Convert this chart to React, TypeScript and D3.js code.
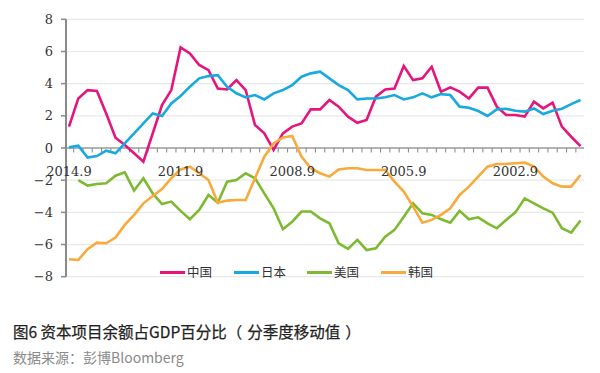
import React from "react";
import * as d3 from "d3";

const quarterLabels = ["2014.9", "2011.9", "2008.9", "2005.9", "2002.9"];
const labelIndex = [0, 12, 24, 36, 48];
const yTicks = [8, 6, 4, 2, 0, -2, -4, -6, -8];

const china = [1.33, 3.08, 3.6, 3.54, 2.15, 0.64, 0.19, -0.33, -0.85, 0.9, 2.67, 3.6, 6.25, 5.88,
  5.16, 4.84, 3.7, 3.64, 4.22, 3.6, 1.43, 0.91, -0.12, 0.91, 1.33, 1.53, 2.4, 2.4,
  2.98, 2.57, 1.95, 1.57, 1.74, 3.19, 3.64, 3.7, 5.09, 4.22, 4.33, 5.05, 3.5, 3.77,
  3.5, 3.08, 3.75, 3.75, 2.57, 2.05, 2.05, 1.95, 2.88, 2.46, 2.82, 1.33, 0.7, 0.12];
const japan = [0.04, 0.14, -0.6, -0.5, -0.17, -0.33, 0.29, 0.91, 1.53, 2.15, 1.99, 2.77, 3.23, 3.81,
  4.33, 4.47, 4.53, 3.81, 3.4, 3.15, 3.29, 3.02, 3.4, 3.6, 3.91, 4.43, 4.64, 4.74,
  4.33, 3.91, 3.6, 3.02, 3.08, 3.08, 3.15, 3.29, 3.02, 3.15, 3.4, 3.15, 3.35, 3.29,
  2.57, 2.5, 2.3, 1.99, 2.4, 2.44, 2.32, 2.26, 2.46, 2.11, 2.32, 2.44, 2.73, 2.98];
const usa = [null, -1.99, -2.34, -2.24, -2.19, -1.72, -1.51, -2.65, -1.88, -2.82, -3.48, -3.33, -3.91, -4.43,
  -3.85, -2.92, -3.4, -2.09, -1.99, -1.57, -1.88, -2.82, -3.75, -5.05, -4.58, -3.95, -3.95, -4.37,
  -4.68, -5.92, -6.27, -5.71, -6.34, -6.23, -5.51, -5.09, -4.27, -3.44, -4.06, -4.16, -4.43, -4.64,
  -3.91, -4.43, -4.31, -4.68, -4.99, -4.47, -4.0, -3.13, -3.44, -3.75, -4.02, -4.99, -5.26, -4.51];
const korea = [-6.92, -6.96, -6.29, -5.88, -5.92, -5.57, -4.78, -4.16, -3.44, -2.98, -2.55, -1.88, -1.33, -1.16,
  -1.57, -1.99, -3.4, -3.27, -3.23, -3.23, -1.88, -0.54, 0.29, 0.66, 0.75, -0.54, -1.26, -1.57,
  -1.78, -1.33, -1.26, -1.26, -1.37, -1.37, -1.37, -2.09, -2.71, -3.64, -4.64, -4.47, -4.16, -3.75,
  -2.92, -2.4, -1.78, -1.16, -0.99, -0.99, -0.95, -0.91, -1.16, -1.78, -2.19, -2.4, -2.4, -1.68];

const seriesNames = ["中国", "日本", "美国", "韩国"];
const seriesData = [china, japan, usa, korea];
const seriesColors = ["#e4157d", "#19a9e1", "#7dba31", "#f8aa3c"];

const titleMain = "图6 资本项目余额占GDP百分比";
const titleParenOpen = "（";
const titleParenInner = "分季度移动值";
const titleParenClose = "）";
const source = "数据来源：彭博Bloomberg";

export default function App() {
  const n = china.length;
  const x = d3.scaleLinear().domain([0, n - 1]).range([69, 580.5]);
  const y = d3.scaleLinear().domain([-8, 8]).range([276.7, 19.3]);
  const step = x(1) - x(0);
  const line = d3
    .line<number | null>()
    .defined((d) => d !== null)
    .x((_, i) => x(i))
    .y((d) => y(d as number))
    .curve(d3.curveLinear);

  const xLeft = 66;
  const xRight = 584;
  const tickIdx = d3.range(-1, n).map((k) => x(k) + step / 2).filter((v) => v > xLeft + 1 && v <= xRight + 1);

  const legendX = [160, 234, 307, 381];
  const legendY = 272.5;

  return (
    <svg width={600} height={373} style={{ position: "absolute", left: 0, top: 0, background: "#fff" }}>
      {yTicks.filter((t) => t !== 0).map((t) => (
        <line key={"g" + t} x1={xLeft} x2={xRight} y1={y(t)} y2={y(t)} stroke="#e8e8e8" strokeWidth={1.2} />
      ))}
      <line x1={xLeft} x2={xRight} y1={y(0)} y2={y(0)} stroke="#9a9a9a" strokeWidth={1.3} />
      {tickIdx.map((v, i) => (
        <line key={"xt" + i} x1={v} x2={v} y1={y(0)} y2={y(0) + 4.5} stroke="#8f8f8f" strokeWidth={1.1} />
      ))}
      <line x1={xLeft} x2={xLeft} y1={y(8)} y2={y(-8)} stroke="#8a8a8a" strokeWidth={2} />
      {yTicks.map((t) => (
        <g key={"yt" + t}>
          <line x1={xLeft - 5} x2={xLeft} y1={y(t)} y2={y(t)} stroke="#8a8a8a" strokeWidth={1.5} />
          <text
            x={53}
            y={y(t)}
            dy="0.35em"
            textAnchor="end"
            fontFamily="DejaVu Serif"
            fontSize={13}
            fill="#333"
          >
            {t < 0 ? "\u2212" + Math.abs(t) : String(t)}
          </text>
        </g>
      ))}
      {seriesData.map((s, k) => (
        <path
          key={"s" + k}
          d={line(s as (number | null)[]) || ""}
          fill="none"
          stroke={seriesColors[k]}
          strokeWidth={2.6}
          strokeLinejoin="miter"
        />
      ))}
      {labelIndex.map((idx, i) => (
        <text
          key={"xl" + i}
          x={x(idx)}
          y={176}
          textAnchor="middle"
          fontFamily="DejaVu Serif"
          fontSize={13}
          fill="#333"
        >
          {quarterLabels[i]}
        </text>
      ))}
      {seriesNames.map((name, k) => (
        <g key={"lg" + k}>
          <line x1={legendX[k]} x2={legendX[k] + 25} y1={legendY} y2={legendY} stroke={seriesColors[k]} strokeWidth={3} />
          <text
            x={legendX[k] + 27}
            y={legendY}
            dy="0.36em"
            fontFamily="Noto Sans CJK SC"
            fontSize={12.5}
            fill="#333"
          >
            {name}
          </text>
        </g>
      ))}
      <text x={13} y={338} fontFamily="Noto Sans CJK SC" fontSize={15.5} fontWeight={400} fill="#222" stroke="#222" strokeWidth={0.25}>
        <tspan>{titleMain}</tspan>
        <tspan>{titleParenOpen}</tspan>
        <tspan dx={5}>{titleParenInner}</tspan>
        <tspan dx={5}>{titleParenClose}</tspan>
      </text>
      <text x={13} y={363} fontFamily="Noto Sans CJK SC" fontSize={14} fill="#8a8a8a">
        {source}
      </text>
    </svg>
  );
}
